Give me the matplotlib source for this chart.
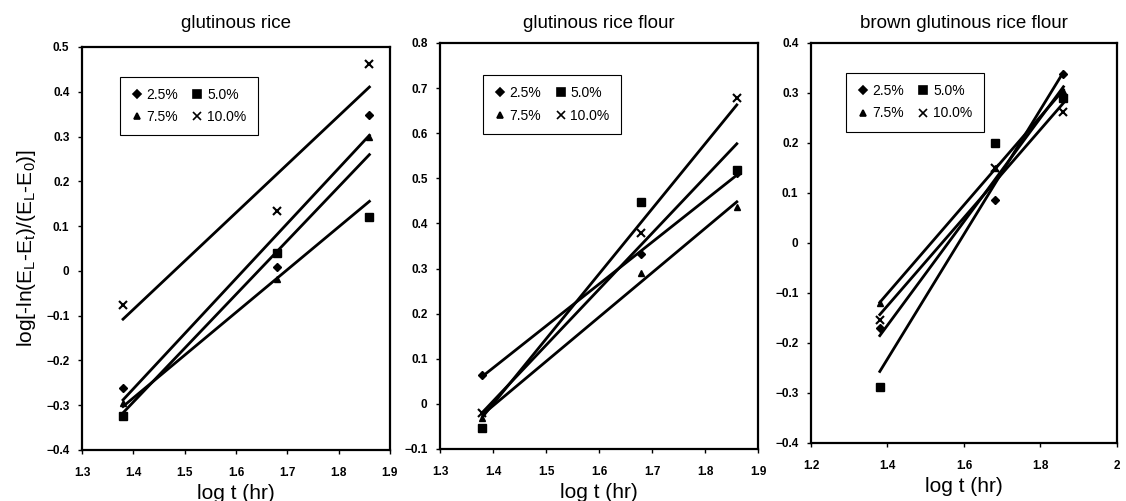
import numpy as np
import matplotlib
matplotlib.use("Agg")
import matplotlib.pyplot as plt
from matplotlib.lines import Line2D

plt.rcParams['font.family'] = ['Liberation Sans', 'DejaVu Sans']
plt.rcParams['mathtext.fontset'] = 'custom'
plt.rcParams['mathtext.rm'] = 'Liberation Sans'

# log t (hr) for 24, 48, 72 h
log_t = [1.38, 1.68, 1.86]
series = ['2.5%', '5.0%', '7.5%', '10.0%']
markers = {'2.5%': 'D', '5.0%': 's', '7.5%': '^', '10.0%': 'x'}
msizes = {'2.5%': 4.5, '5.0%': 6, '7.5%': 4.5, '10.0%': 6}

titles = ['glutinous rice', 'glutinous rice flour', 'brown glutinous rice flour']

rice = {'2.5%': [-0.261, 0.009, 0.348],
        '5.0%': [-0.324, 0.040, 0.120],
        '7.5%': [-0.294, -0.018, 0.298],
        '10.0%': [-0.077, 0.134, 0.462]}
rice_flour = {'2.5%': [0.064, 0.332, 0.512],
              '5.0%': [-0.054, 0.447, 0.518],
              '7.5%': [-0.031, 0.290, 0.436],
              '10.0%': [-0.020, 0.379, 0.678]}
brown_flour = {'2.5%': [-0.170, 0.085, 0.338],
               '5.0%': [-0.288, 0.200, 0.290],
               '7.5%': [-0.120, 0.150, 0.304],
               '10.0%': [-0.154, 0.150, 0.262]}
datasets = [rice, rice_flour, brown_flour]

xlims = [(1.3, 1.9), (1.3, 1.9), (1.2, 2.0)]
xticks = [[1.3, 1.4, 1.5, 1.6, 1.7, 1.8, 1.9],
          [1.3, 1.4, 1.5, 1.6, 1.7, 1.8, 1.9],
          [1.2, 1.4, 1.6, 1.8, 2.0]]
xticklabels = [['1.3', '1.4', '1.5', '1.6', '1.7', '1.8', '1.9'],
               ['1.3', '1.4', '1.5', '1.6', '1.7', '1.8', '1.9'],
               ['1.2', '1.4', '1.6', '1.8', '2']]
ylims = [(-0.4, 0.5), (-0.1, 0.8), (-0.4, 0.4)]
yticks = [np.round(np.arange(-0.4, 0.51, 0.1), 1),
          np.round(np.arange(-0.1, 0.81, 0.1), 1),
          np.round(np.arange(-0.4, 0.41, 0.1), 1)]

positions = [[0.0728, 0.1018, 0.2735, 0.8044],
             [0.3908, 0.1038, 0.2824, 0.8104],
             [0.7202, 0.1158, 0.2718, 0.7984]]
legend_anchor = [(0.123, 0.926), (0.135, 0.921), (0.114, 0.925)]

fig = plt.figure(figsize=(11.26, 5.01), dpi=100)

for i in range(3):
    ax = fig.add_axes(positions[i])
    data = datasets[i]
    xs = np.array(log_t)
    for s in series:
        ys = np.array(data[s])
        k, b = np.polyfit(xs, ys, 1)
        ax.plot(xs[[0, -1]], k * xs[[0, -1]] + b, color='black', lw=2.0, zorder=2)
        ax.plot(xs, ys, linestyle='none', marker=markers[s], ms=msizes[s],
                color='black', mew=1.5 if s == '10.0%' else 1.0, zorder=3)
    ax.set_xlim(*xlims[i])
    ax.set_ylim(*ylims[i])
    ax.set_xticks(xticks[i])
    ax.set_xticklabels(xticklabels[i])
    ax.set_yticks(yticks[i])
    ax.set_yticklabels(['0' if abs(v) < 1e-9 else ('%.1f' % v).replace('-', '\u2212')
                        for v in yticks[i]])
    for sp in ax.spines.values():
        sp.set_linewidth(1.6)
    ax.tick_params(direction='out', length=3, width=1, labelsize=8.5, pad=6)
    ax.tick_params(axis='x', pad=9)
    for lab in ax.get_xticklabels() + ax.get_yticklabels():
        lab.set_fontweight('bold')
    pos = positions[i]
    fig.text(pos[0] + pos[2] / 2, 0.953, titles[i], fontsize=13.5,
             ha='center', va='center')
    ax.set_xlabel('log t (hr)', fontsize=15, labelpad=4)

    order = ['2.5%', '7.5%', '5.0%', '10.0%']
    handles = [Line2D([], [], linestyle='none', marker=markers[s], ms=msizes[s] - 0.5,
                      color='black', mew=1.2) for s in order]
    leg = ax.legend(handles, order, ncol=2, loc='upper left',
                    bbox_to_anchor=legend_anchor[i], fancybox=False,
                    edgecolor='black', framealpha=1, fontsize=10,
                    handlelength=0.8, handletextpad=0.3, columnspacing=1.0,
                    borderpad=0.8, labelspacing=0.6, borderaxespad=0)
    leg.get_frame().set_linewidth(0.8)

    if i == 0:
        ax.set_ylabel(r'log[-ln(E$_{\rm L}$-E$_{\rm t}$)/(E$_{\rm L}$-E$_{\rm 0}$)]',
                      fontsize=15, labelpad=6)

fig.savefig('out.png', dpi=100)
